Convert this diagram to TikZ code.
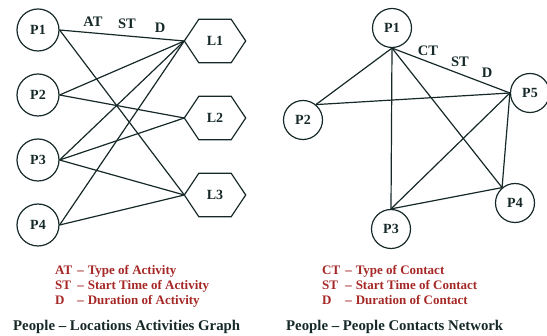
\documentclass[tikz,border=0pt]{standalone}
\usepackage{fontspec}
\setmainfont{Liberation Serif}
\definecolor{ink}{RGB}{22,40,40}
\definecolor{legred}{RGB}{165,40,38}
\tikzset{
  pnode/.style={circle,draw=ink,line width=1.2pt,minimum size=42pt,inner sep=0pt,font=\bfseries\fontsize{14}{14}\selectfont,text=ink},
  qnode/.style={circle,draw=ink,line width=1.2pt,minimum size=39pt,inner sep=0pt,font=\bfseries\fontsize{14}{14}\selectfont,text=ink},
  hexbox/.style={minimum width=61pt,minimum height=43pt,inner sep=0pt,font=\bfseries\fontsize{14}{14}\selectfont,text=ink},
  edge/.style={draw=ink,line width=1.2pt},
  elabel/.style={font=\bfseries\fontsize{14.5}{14}\selectfont,text=ink,inner sep=0pt},
  legend/.style={font=\bfseries\fontsize{13}{15}\selectfont,text=legred,inner sep=0pt,anchor=west},
  caption/.style={font=\bfseries\fontsize{14.8}{15}\selectfont,text=ink,inner sep=0pt,anchor=west}
}
\begin{document}
\begin{tikzpicture}[x=1pt,y=-1pt]
\useasboundingbox (0,0) rectangle (547,336);
% left graph
\node[pnode] (A1) at (38,30) {P1};
\node[pnode] (A2) at (38,95) {P2};
\node[pnode] (A3) at (38,160) {P3};
\node[pnode] (A4) at (38,225) {P4};
\node[hexbox] (L1) at (215,41) {L1};
\node[hexbox] (L2) at (215,118) {L2};
\node[hexbox] (L3) at (215,195) {L3};
\foreach \n in {L1,L2,L3}{
  \draw[edge,line join=miter] (\n.west) -- ([xshift=14.5pt]\n.north west) -- ([xshift=-14.5pt]\n.north east) -- (\n.east) -- ([xshift=-14.5pt]\n.south east) -- ([xshift=14.5pt]\n.south west) -- cycle;
}
\draw[edge] (A1.east) -- (L1.west);
\draw[edge] (A1.east) -- (L3.west);
\draw[edge] (A2.east) -- (L1.west);
\draw[edge] (A2.east) -- (L2.west);
\draw[edge] (A3.east) -- (L1.west);
\draw[edge] (A3.east) -- (L2.west);
\draw[edge] (A3.east) -- (L3.west);
\draw[edge] (A4.east) -- (L1.west);
\draw[edge] (A4.east) -- (L3.west);
\node[elabel] (lat) at (93,22) {AT};
\node[elabel] (lst) at (127,24) {ST};
\node[elabel] (ld) at (160,28) {D};
% right graph
\node[qnode] (B1) at (392,28) {P1};
\node[qnode] (B2) at (303,120) {P2};
\node[qnode] (B3) at (391,229) {P3};
\node[qnode] (B4) at (515,203) {P4};
\node[qnode] (B5) at (530,93) {P5};
\draw[edge] (B1.south) -- (B2.50);
\draw[edge] (B1.south) -- (B3.north);
\draw[edge] (B1.south) -- (B4.130);
\draw[edge] (B1.south) -- (B5.west);
\draw[edge] (B2.50) -- (B5.west);
\draw[edge] (B3.north) -- (B5.west);
\draw[edge] (B3.north) -- (B4.130);
\draw[edge] (B4.130) -- (B5.west);
\node[elabel] (rct) at (428,51) {CT};
\node[elabel] (rst) at (460,62) {ST};
\node[elabel] (rd) at (487,73) {D};
% legends
\node[legend] (legL) at (55,287) {\begin{tabular}{@{}l@{\hspace{5pt}}c@{\hspace{4pt}}l@{}}AT & -- & Type of Activity\\ ST & -- & Start Time of Activity\\ D & -- & Duration of Activity\end{tabular}};
\node[legend] (legR) at (322,287) {\begin{tabular}{@{}l@{\hspace{5pt}}c@{\hspace{4pt}}l@{}}CT & -- & Type of Contact\\ ST & -- & Start Time of Contact\\ D & -- & Duration of Contact\end{tabular}};
\node[caption] (capL) at (13,327) {People -- Locations Activities Graph};
\node[caption] (capR) at (286,327) {People -- People Contacts Network};
\end{tikzpicture}
\end{document}
